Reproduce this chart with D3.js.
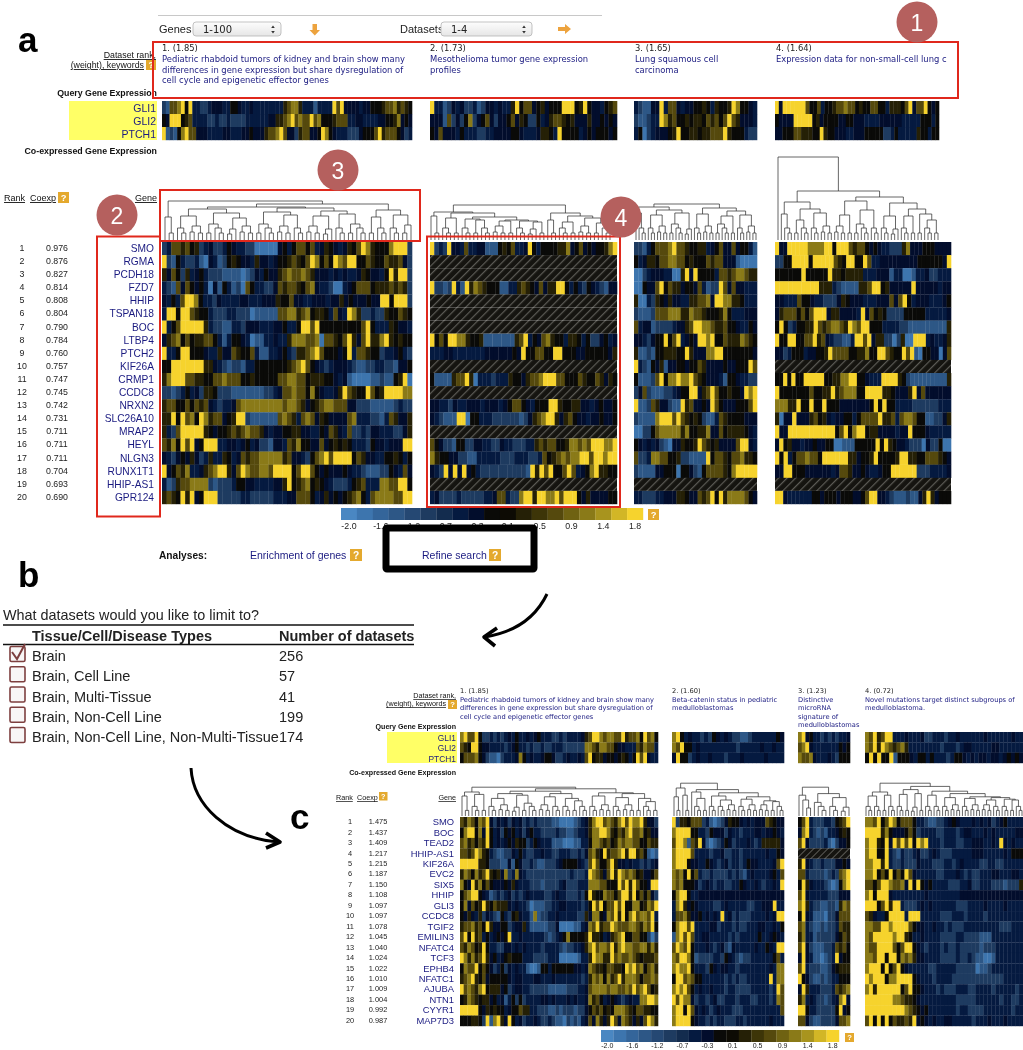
<!DOCTYPE html>
<html><head><meta charset="utf-8">
<script src="https://cdn.jsdelivr.net/npm/d3@7/dist/d3.min.js"></script>
<style>html,body{margin:0;padding:0;background:#fff}svg{display:block;filter:blur(.35px)}text{font-family:"Liberation Sans",Arial,sans-serif}.t{font-family:"DejaVu Sans",sans-serif}</style>
</head><body><svg id="c" width="1023" height="1050"></svg>
<script>
// ---------- data ----------
const tickLabels=["-2.0","-1.6","-1.2","-0.7","-0.3","0.1","0.5","0.9","1.4","1.8"];
const levelValues=[-1.85,-1.3,-0.85,-0.4,-0.15,0.1,0.5,0.9,1.4,1.95]; // digit -> log ratio
const ramp=["#4a87c2","#3d75ae","#34659a","#2d5786","#254873","#1e3b60","#132c4e","#051a40","#020d2c","#0a0a08","#0d0b04","#252006","#3d3508","#55490d","#6f6212","#8a7a18","#a8941e","#d2b626","#f6d32d"];
const queryGenes=["GLI1","GLI2","PTCH1"];
const genesA=["SMO","RGMA","PCDH18","FZD7","HHIP","TSPAN18","BOC","LTBP4","PTCH2","KIF26A","CRMP1","CCDC8","NRXN2","SLC26A10","MRAP2","HEYL","NLGN3","RUNX1T1","HHIP-AS1","GPR124"];
const coexpA=["0.976","0.876","0.827","0.814","0.808","0.804","0.790","0.784","0.760","0.757","0.747","0.745","0.742","0.731","0.711","0.711","0.711","0.704","0.693","0.690"];
const genesC=["SMO","BOC","TEAD2","HHIP-AS1","KIF26A","EVC2","SIX5","HHIP","GLI3","CCDC8","TGIF2","EMILIN3","NFATC4","TCF3","EPHB4","NFATC1","AJUBA","NTN1","CYYR1","MAP7D3"];
const coexpC=["1.475","1.437","1.409","1.217","1.215","1.187","1.150","1.108","1.097","1.097","1.078","1.045","1.040","1.024","1.022","1.010","1.009","1.004","0.992","0.987"];
const tissueTypes=["Brain","Brain, Cell Line","Brain, Multi-Tissue","Brain, Non-Cell Line","Brain, Non-Cell Line, Non-Multi-Tissue"];
const datasetCounts=["256","57","41","199","174"];

const queryA1=["217789593322344433554334333333336788633313333979444434455567786765",
"549995673333223223222233333344667897877978555677733443333445568454",
"912158977444333344333445444677897442677445985433322245557967775423"];
const queryA2=["93312434223124434336957745645559995695443567",
"44417242582457424457465225346776564446445454",
"54744435333223344445543334665395555345455545"];
const queryA3=["32114493774344556536556985543",
"21123398675565665767579764443",
"35023444569556656677796555322"];
const queryA4=["9499999975573556778775655775536665794779545",
"54444999995645555445544433334444443333355535",
"44555776665596554443344455555223533333655355"];
const rowsA1=["237767562342235433220000045357757346543465798655589992",
"921532231043125654436443455676579857598799557655766742",
"647526345322211110124354467877876444343433465443596992",
"321747545304153120753322476776578433200345777566676762",
"4353799853324333344333444655744334443446454445449959992",
"399599765532223322201111177886785665374398622322655765",
"935799999632211332444333445335997955555555579533365443",
"467857566775313554301133433688877807765796479668965655",
"933599555433644765573113345326678975554593776552334532",
"559999999664321221335555555678975432344432112233221445",
"689997766557787775565555577887756665543410000112115690",
"221235342665222111111122347787758543346976559756999988",
"677557576743233478888888887887645678877744222111112322",
"669597859867745699211111178763787465444478333221376446",
"632799999654556767877643445566443354764372232443332246",
"768597945999334434534221443768554474565653332544344499",
"432454642363365347677888886744325789799995764433556535",
"945768334678996479877887999957997545444543321112254374",
"312677888821222355443333446956785654322235673338877995",
"676596945999222223322222333447775346454567853788887799"];
const rowsA2=["92329443733441115657334953555566845745455689",
"x","x","9221293196876555113367654746699535325432144",
"x","x","x",
"957599886556111111167935478655366535224534",
"33344333333344444454955775599555445555546",
"x",
"5111167796033323336554677899977555765576465",
"x",
"44332433444344434577543555996556644345445",
"432111990553332222221246789964675443445445",
"x",
"7542215522443322433222336767755688787999889",
"8655442211333332223332237567878899799899",
"43294949453222222222219697955797345896655",
"x",
"342222322222334773228996998897999546444455"];
const rowsA3=["22135777897765566345744745531",
"53466577887756555767744410000",
"00234443300694955553776788766",
"00544795766455473122974744333",
"60032654644336677849988665333",
"21112777888668776555685333444",
"73441222234467998876675543354",
"44324559579345499895576668765",
"61121556665596444889955555554",
"93215461445545576444454455597",
"51112795889889765444315543322",
"24721112234559946797556554989",
"91127644211967445497544455579",
"21111899979765652113765555444",
"00225788888685566844756666543",
"54343421044655697656444479943",
"72238877556221111957765778665",
"21111445550554215777765899999",
"x",
"33222334446654476795968888754"];
const rowsA4=["9449999988889959997677545433222684445554444",
"225599995999997659955973344444444455555549",
"5555559555559665666633344413300133422333",
"9999999999666321111667995644444944444344",
"4433375543322246544433344474795344433345",
"46777575799946644443947565222255555333334",
"59523556697678876987995553333221111111116",
"955995577967432211399794662202600999343346",
"4423555344556977775566855997655979105544047",
"x",
"5595955999995566889955433399996521111111116",
"95555555755669678885599996654446947444444",
"88866955955955544444445959553333222222333",
"60449444675643445535777796673788755112246",
"94499999999999579589956644443449555433333",
"495644344544550011155555959654432220422500",
"95935778775999999664556955556996655777654",
"44995554444443477644543345599999922233334",
"x",
"9943333335545554555445799443211121146964555"];

const queryC1=["897795223232343533434533322323333467998788779677859785",
"765995443333234533232232233322222288768877544333768773",
"577785421102333485343345542234334379566455456535979433"];
const queryC2=["8953433232543432211233333354","8795534333333333233333433433","4955234334333233343333343333"];
const queryC3=["89453323232334","78943333333545","87784333432555"];
const queryC4=["8796799333433342233323343333334333333433",
"8796987678633333333233323443333344333333",
"595955915554355353332355434344344345454"];
const rowsC1=["768758794243424342323222211000012346899787689798896442",
"589958495342545342453322223221123346889986576897785644",
"786757695343454655235433311100011335887675687887755766",
"776798653211224353223343322333223247865967789699675101",
"999996652221141542232112223455554327975579644343323234",
"687586796564823843222222222222322239876479698787564457",
"854968575444546433322212222342223338887755597969755499",
"578995431232342323433332234332223259655877579969575742",
"584756965766643433201112233443333235979577979558856879",
"546436243215325643318122334333332264885487969589788793",
"677867596445523446311111224000011348796779877788768795",
"795967353454593343333332123458555569665346789557755202",
"768756953322443434333323333212233468978879689887788686",
"986867964534565553332222333000001336988669787787656667",
"587795754235243433100155355555544348766577665989785786",
"678965745555543443334433343333333236878586796888757787",
"978768956664523443322222111112223347888878877879789756",
"568765664534135252333344343334343348675345432343388998",
"999995465655345576633222112122212245767565888765776655",
"555665291896495342334322321102121347486469748764647986"];
const rowsC2=["926657772310124655434344476544","899995533254442433233344344543","799817694101235423334323666664","899997333323342233233333343354","899954433543234233235443333479","878595732232222323213433334537","878555423432332233543343233439","589953344444444444444444444444","389645433332234333332233444933","377864453434393423222333343499","589979333344233323223334433435","189797334433333232333335334543","798795333432342143333343354399","879985122223325432122333333573","898895333254344332333333334388","599787553333332323223333339388","898975343343332332222333332397","979884233234223332333223332387","899597434323433322233333333337","899995433232332223323333334333"];
const rowsC3=["57932223325679","48932121334565","79422223102445","x","69432232224454","77322221232789","59643332101589","79433333222444","89632211221687","59431110224777","78321121223766","68331222224576","79421112237675","49431101239455","79322211245666","95421121233555","49633322237678","68343221234894","99533222225945","77421122224778"];
const rowsC4=["8879579857775332112234543334343423453333",
"9999685444575233332233323443334343333344",
"8996594979795989333233322334443343943433",
"8995593213223422343222333334443333343555",
"8899693223222433322233234333322332233333",
"8895759575974333332233343232233344333443",
"7757998778495954533332223342233322212226",
"8959994333333334333333334444444444444444",
"9995796993222343433333322233334333343333",
"7643359999399933333222333233332333333333",
"8877998999975443343323222333333333222333",
"8799999899653343333222233222211133333333",
"8779999757995432333232232222212223333333",
"8879959958786443333222232232110013333333",
"8999595795433333223333322222011233333333",
"9899958899995433323333222222222222233333",
"8969999995795543332322233322333323333323",
"9999999887665433333333322222333333233223",
"9999999999876545333333323322223333333233",
"7959595766769454343344333332333433343333"];

// dendrogram subtrees: [height, child, child]; 0 is a leaf
const s2=[7,0,0],s2b=[10,0,0],s3=[12,0,[7,0,0]],s3r=[11,[6,0,0],0],s4=[14,[8,0,0],[7,0,0]],s5=[16,s2,s3],s6=[18,s3r,s3];
const treeA1=[39,[23,0,s2],[36,[33,[31,[24,s3,s4],[27,s5,[22,s3r,s4]]],[32,[28,s5,[25,s4,s3]],[29,[24,s4,s3r],[26,s3,s5]]]],[30,[23,s2,s3],[25,s3,[15,s2,0]]]]];
const treeA2=[35,[28,[24,0,s2],[27,[22,s3,s2],[23,[21,s3,[20,s2,s3]],[20,[19,s4,s2],[19,s3,[18,s3r,s2]]]]]],[27,[20,0,s2],[24,[18,s3,s2],[22,s4,[17,s2,s3]]]]];
const treeA3=[36,[33,[27,0,s3],[30,[25,s3,s4],[27,s5,s3r]]],[32,[26,s3,s4],[29,[24,s5,s2],[25,s3,s4]]]];
const treeA4=[83,0,[49,[38,[26,0,s3],[31,[20,s2,s3],[27,s3,s4]]],[43,[39,[25,s4,s2],[30,s5,s3]],[37,[24,s3,s3r],[31,[24,s3,s2],[26,s2,[20,s3,s2]]]]]]];
const treeC1=[36,[30,[25,0,s2],[27,s3,s2]],[34,[31,[28,[22,s3,s4],[26,s3r,s5]],[28,[24,s4,s3],[22,s3,[19,s2,s3]]]],[29,[25,s3,s4],[28,[23,s3,s4],[22,s2,[18,s3,s2]]]]]];
const treeC2=[41,[35,[24,0,s2],[26,0,s2]],[33,[30,0,[22,s3,s2]],[29,[25,s3,[20,s3,s4]],[24,[21,s3,s4],[19,s4,[18,s2,s3]]]]]];
const treeC3=[36,[26,0,[20,0,s2b]],[28,[17,0,s3],[23,s3,s3r]]];
const treeC4=[41,[30,[25,s3,s3],[26,s2,s3]],[37,[33,[27,s3,s2],[28,s3r,s2]],[31,[26,s3,s3],[28,[23,s3,s4],[24,[22,s3,s4],[23,[20,s4,s3],[21,s3,[20,s2,s3]]]]]]]];

const titlesA=[["Pediatric rhabdoid tumors of kidney and brain show many","differences in gene expression but share dysregulation of","cell cycle and epigenetic effector genes"],["Mesothelioma tumor gene expression","profiles"],["Lung squamous cell","carcinoma"],["Expression data for non-small-cell lung c"]];
const ranksA=["1. (1.85)","2. (1.73)","3. (1.65)","4. (1.64)"];
const titlesC=[["Pediatric rhabdoid tumors of kidney and brain show many","differences in gene expression but share dysregulation of","cell cycle and epigenetic effector genes"],["Beta-catenin status in pediatric","medulloblastomas"],["Distinctive","microRNA","signature of","medulloblastomas"],["Novel mutations target distinct subgroups of","medulloblastoma."]];
const ranksC=["1. (1.85)","2. (1.60)","3. (1.23)","4. (0.72)"];

// ---------- drawing ----------
const svg=d3.select("#c");
const color=d3.scaleQuantize().domain([-2.1,2.1]).range(ramp);
const NAVY="#1a1a80",RED="#e0281c";
const defs=svg.append("defs");
function hatch(id,s){const p=defs.append("pattern").attr("id",id).attr("patternUnits","userSpaceOnUse").attr("width",s).attr("height",s).attr("patternTransform","rotate(45)");
 p.append("rect").attr("width",s).attr("height",s).attr("fill","#151410");
 p.append("rect").attr("width",Math.max(.9,s*.2)).attr("height",s).attr("fill","#5c5b56");}
hatch("hA",6);hatch("hC",5);
defs.append("clipPath").attr("id","clipT").append("rect").attr("x",770).attr("y",40).attr("width",181).attr("height",60);
const grad=defs.append("linearGradient").attr("id","sel").attr("x2",0).attr("y2",1);
grad.append("stop").attr("offset",0).attr("stop-color","#fdfdfd");grad.append("stop").attr("offset",1).attr("stop-color","#e6e6e6");

function txt(x,y,s,size,o={}){return svg.append("text").attr("x",x).attr("y",y).attr("font-size",size).attr("text-anchor",o.a||"start").attr("font-weight",o.b?"bold":null).attr("fill",o.c||"#111").attr("text-decoration",o.u?"underline":null).attr("class",o.cls||null).attr("clip-path",o.clip||null).text(s);}
function help(x,y,s){svg.append("rect").attr("x",x).attr("y",y).attr("width",s).attr("height",s).attr("fill","#e4a92e");
 txt(x+s/2,y+s*.82,"?",s*.85,{a:"middle",b:1,c:"#fff"});}
function heat(rows,x0,x1,y0,y1,hid){
 const y=d3.scaleBand().domain(d3.range(rows.length)).range([y0,y1]);
 const g=svg.append("g");
 rows.forEach((r,i)=>{
  if(r==="x"){g.append("rect").attr("x",x0).attr("y",y(i)).attr("width",x1-x0).attr("height",y.bandwidth()).attr("fill",`url(#${hid})`);return;}
  const x=d3.scaleBand().domain(d3.range(r.length)).range([x0,x1]);
  g.selectAll(null).data(Array.from(r)).enter().append("rect")
   .attr("x",(d,j)=>x(j)).attr("y",y(i)).attr("width",x.bandwidth()+.3).attr("height",y.bandwidth()+.2)
   .attr("fill",d=>color(levelValues[+d]));
 });
}
function dendro(tree,x0,x1,base,k){
 const root=d3.hierarchy(tree,d=>Array.isArray(d)?d.slice(1):null);
 const leaves=root.leaves();
 const x=d3.scalePoint().domain(d3.range(leaves.length)).range([x0,x1]);
 const y=d3.scaleLinear().domain([0,100]).range([base,base-100*k]);
 leaves.forEach((l,i)=>{l.px=x(i);l.h=0;});
 root.eachAfter(n=>{if(n.children){n.px=d3.mean(n.children,c=>c.px);n.h=n.data[0];}});
 const p=d3.path();
 root.each(n=>{if(n.children){const[a,b]=n.children;
  p.moveTo(a.px,y(a.h));p.lineTo(a.px,y(n.h));p.lineTo(b.px,y(n.h));p.lineTo(b.px,y(b.h));}});
 svg.append("path").attr("d",p.toString()).attr("fill","none").attr("stroke","#333").attr("stroke-width",.75);
}
function legend(x0,x1,y0,h,ty,fs){
 const x=d3.scaleBand().domain(d3.range(ramp.length)).range([x0,x1]);
 svg.selectAll(null).data(ramp).enter().append("rect").attr("x",(d,i)=>x(i)).attr("y",y0).attr("width",x.bandwidth()+.2).attr("height",h).attr("fill",d=>d);
 tickLabels.forEach((t,i)=>txt(x(i*2)+x.bandwidth()/2,ty,t,fs,{a:"middle",c:"#222"}));
}
function select(x,w,label,tx){
 svg.append("rect").attr("x",x).attr("y",22).attr("width",w).attr("height",14).attr("rx",3).attr("fill","url(#sel)").attr("stroke","#b4b4b4").attr("stroke-width",.8);
 txt(tx,33,label,10,{cls:"t",c:"#222"});
 const c=x+w-8;
 svg.append("path").attr("d",`M${c-1.8} 28L${c} 25.5L${c+1.8} 28ZM${c-1.8} 31L${c} 33.5L${c+1.8} 31Z`).attr("fill","#333");
}

// top controls
svg.append("line").attr("x1",158).attr("x2",602).attr("y1",15.5).attr("y2",15.5).attr("stroke","#c8c8c8");
txt(159,32.5,"Genes",11,{c:"#222"});select(193,88,"1-100",203);
txt(400,32.5,"Datasets",11,{c:"#222"});select(441,91,"1-4",451);
svg.append("path").attr("d","M312.5 24h4.5v6h3l-5.2 5.5-5.3-5.5h3z").attr("fill","#eda33e");
svg.append("path").attr("d","M558 27h7v-3l6 5-6 5v-3h-7z").attr("fill","#eda33e");

// panel a
const blocksA=[[162,412],[430,617],[634,757],[775,951]];
[queryA1,queryA2,queryA3].forEach((q,i)=>heat(q,blocksA[i][0],blocksA[i][1],101,140,"hA"));
heat(queryA4,775,939,101,140,"hA");
[rowsA1,rowsA2,rowsA3,rowsA4].forEach((r,i)=>heat(r,blocksA[i][0],blocksA[i][1],242,504,"hA"));
dendro(treeA1,165,411,240,1);dendro(treeA2,431,610,240,1);dendro(treeA3,636,756,240,1);dendro(treeA4,778,938,240,1);
svg.append("rect").attr("x",69).attr("y",101).attr("width",88).attr("height",39).attr("fill","#ffff66");
queryGenes.forEach((g,i)=>txt(156,112+i*13,g,10.5,{a:"end",c:NAVY}));
txt(156,58,"Dataset rank,",8.8,{a:"end",u:1});txt(144,68,"(weight), keywords",8.8,{a:"end",u:1});help(146,60,10);
txt(157,96,"Query Gene Expression",8.8,{a:"end",b:1});txt(157,154,"Co-expressed Gene Expression",8.8,{a:"end",b:1});
txt(4,201,"Rank",9,{u:1});txt(30,201,"Coexp",9,{u:1});help(58,192,11);txt(157,201,"Gene",9,{a:"end",u:1});
const yA=d3.scaleBand().domain(d3.range(20)).range([242,504]);
genesA.forEach((g,i)=>{const yy=yA(i)+yA.bandwidth()/2+3.4;
 txt(22,yy-1,i+1,8.8,{a:"middle",c:"#222"});txt(57,yy-1,coexpA[i],8.8,{a:"middle",c:"#222"});
 txt(154,yy,g,10.2,{a:"end",c:NAVY});});
titlesA.forEach((t,i)=>{const x=[162,430,635,776][i];
 txt(x,51,ranksA[i],8.4,{cls:"t",c:"#222"});
 t.forEach((l,j)=>txt(x,62+j*10.7,l,8.4,{cls:"t",c:NAVY,clip:i==3?"url(#clipT)":null}));});
legend(341,643,508,12,529,8.8);help(648,509,11);
txt(159,559,"Analyses:",10.2,{b:1});txt(250,559,"Enrichment of genes",10.5,{c:NAVY});help(350,549,12);
txt(422,559,"Refine search",10.5,{c:NAVY});help(489,549,12);

// annotation boxes
[[153,42,805,56],[97,236.5,63,280],[160,190,260,51],[427,236.5,193,270.5]].forEach(d=>
 svg.append("rect").attr("x",d[0]).attr("y",d[1]).attr("width",d[2]).attr("height",d[3]).attr("fill","none").attr("stroke",RED).attr("stroke-width",2));
svg.append("rect").attr("x",386).attr("y",528).attr("width",148).attr("height",41).attr("rx",1).attr("fill","none").attr("stroke","#000").attr("stroke-width",7);
[[917,22,"1"],[117,215,"2"],[338,170,"3"],[621,217,"4"]].forEach(d=>{
 svg.append("circle").attr("cx",d[0]).attr("cy",d[1]).attr("r",20.5).attr("fill","#b5605e");
 txt(d[0],d[1]+8.5,d[2],23,{a:"middle",c:"#fff"});});
txt(18,52,"a",35,{b:1,c:"#000"});txt(18,587,"b",35,{b:1,c:"#000"});txt(290,829,"c",35,{b:1,c:"#000"});

// panel b
txt(3,620,"What datasets would you like to limit to?",14.4,{c:"#222"});
svg.append("line").attr("x1",3).attr("x2",414).attr("y1",625).attr("y2",625).attr("stroke","#111").attr("stroke-width",1.5);
txt(32,641,"Tissue/Cell/Disease Types",14.5,{b:1,c:"#222"});txt(279,641,"Number of datasets",14.5,{b:1,c:"#222"});
svg.append("line").attr("x1",3).attr("x2",414).attr("y1",644.5).attr("y2",644.5).attr("stroke","#111").attr("stroke-width",1.5);
const yB=d3.scaleLinear().domain([0,4]).range([661,742]);
tissueTypes.forEach((t,i)=>{
 svg.append("rect").attr("x",10).attr("y",yB(i)-14.5).attr("width",15).attr("height",15).attr("rx",1.5).attr("fill","#f8f6f6").attr("stroke","#7d3f3f").attr("stroke-width",1.6);
 txt(32,yB(i),t,14.5,{c:"#222"});txt(279,yB(i),datasetCounts[i],14.5,{c:"#222"});});
svg.append("path").attr("d","M12 652L17 659L25 644").attr("fill","none").attr("stroke","#7d3f3f").attr("stroke-width",2);

// curved arrows
const arrow=(d,h)=>{svg.append("path").attr("d",d).attr("fill","none").attr("stroke","#000").attr("stroke-width",3);
 svg.append("path").attr("d",h).attr("fill","none").attr("stroke","#000").attr("stroke-width",3.6).attr("stroke-linejoin","round");};
arrow("M547 594C536 617 516 632 485 637","M497 628L484 637L495 646");
arrow("M191 768C193 805 227 838 279 842","M266 833L280 842L266 848");

// panel c
const blocksC=[[460,658],[672,784],[798,850],[865,1023]];
[queryC1,queryC2,queryC3,queryC4].forEach((q,i)=>heat(q,blocksC[i][0],blocksC[i][1],732,763,"hC"));
[rowsC1,rowsC2,rowsC3,rowsC4].forEach((r,i)=>heat(r,blocksC[i][0],blocksC[i][1],817,1026,"hC"));
dendro(treeC1,462,657,816,.8);dendro(treeC2,674,783,816,.8);dendro(treeC3,799,849,816,.8);dendro(treeC4,866,1022,816,.8);
svg.append("rect").attr("x",387).attr("y",732).attr("width",70).attr("height",31).attr("fill","#ffff66");
queryGenes.forEach((g,i)=>txt(456,741+i*10.3,g,8.4,{a:"end",c:NAVY}));
txt(456,698,"Dataset rank,",7.2,{a:"end",u:1});txt(446,706,"(weight), keywords",7.2,{a:"end",u:1});help(448,700,9);
txt(456,729,"Query Gene Expression",7.1,{a:"end",b:1});txt(456,775,"Co-expressed Gene Expression",7.1,{a:"end",b:1});
txt(336,800,"Rank",7.2,{u:1});txt(357,800,"Coexp",7.2,{u:1});help(379,792,8.5);txt(456,800,"Gene",7.2,{a:"end",u:1});
const yC=d3.scaleBand().domain(d3.range(20)).range([817,1026]);
genesC.forEach((g,i)=>{const yy=yC(i)+yC.bandwidth()/2+3;
 txt(350,yy-1,i+1,7.4,{a:"middle",c:"#222"});txt(378,yy-1,coexpC[i],7.4,{a:"middle",c:"#222"});
 txt(454,yy,g,9.4,{a:"end",c:NAVY});});
titlesC.forEach((t,i)=>{const x=[460,672,798,865][i];
 txt(x,693,ranksC[i],6.7,{cls:"t",c:"#222"});
 t.forEach((l,j)=>txt(x,702+j*8.4,l,6.7,{cls:"t",c:NAVY}));});
legend(601,839,1030,12,1048,7);help(845,1033,9);
</script></body></html>
